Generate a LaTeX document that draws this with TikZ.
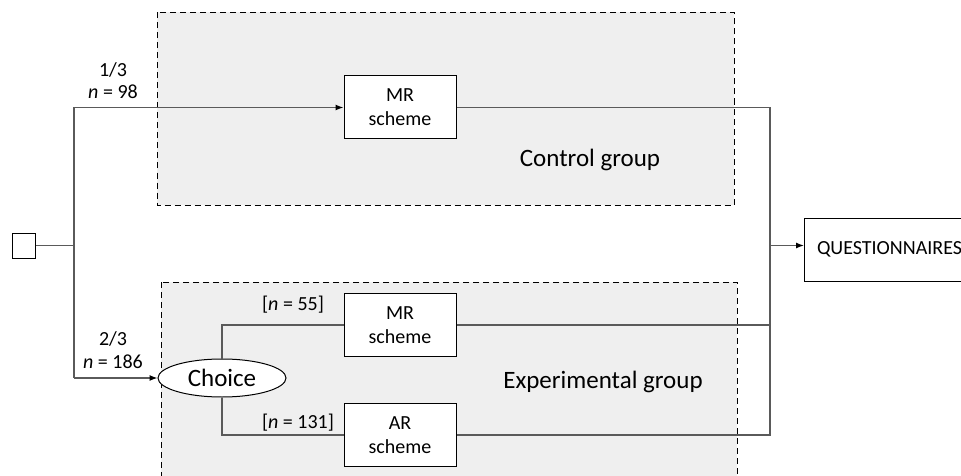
\documentclass[tikz,border=0pt]{standalone}
\usepackage{fontspec}
\setmainfont{Carlito}
\usetikzlibrary{arrows.meta,shapes.geometric}
\definecolor{groupfill}{HTML}{EFEFEF}
\definecolor{conn}{HTML}{5A5A5A}
\tikzset{
  grp/.style={draw=black, line width=1pt, dash pattern=on 6pt off 4pt, fill=groupfill},
  schemebox/.style={draw=black, line width=1pt, fill=white, minimum width=112pt, minimum height=63pt, inner sep=0pt, align=center, font=\fontsize{20}{24}\selectfont},
  link/.style={draw=conn, line width=1.2pt},
  arr/.style={link, -{Latex[length=8pt,width=6pt,color=black]}},
  lbl/.style={font=\fontsize{20}{24}\selectfont, inner sep=0pt},
  big/.style={font=\fontsize{25}{29}\selectfont, inner sep=0pt}
}
\begin{document}
\begin{tikzpicture}[x=1pt,y=-1pt]
\useasboundingbox (0,0) rectangle (961,476);
\clip (0,0) rectangle (961,476);
% groups
\draw[grp] (157,12.5) rectangle (734,205);
\draw[grp] (161,282) rectangle (737,500);
\node[big] (cg) at (590,160) {Control group};
\node[big] (eg) at (603,382) {Experimental group};
% nodes
\node[draw=black, line width=1pt, fill=white, minimum width=23pt, minimum height=25pt, inner sep=0pt] (start) at (23.5,245.5) {};
\node[schemebox] (mr1) at (400,107.5) {MR\\scheme};
\node[schemebox] (mr2) at (400,325) {MR\\scheme};
\node[schemebox] (ar) at (400,435) {AR\\scheme};
\node[draw=black, line width=1pt, fill=white, ellipse, minimum width=128pt, minimum height=38pt, inner sep=0pt, big] (choice) at (222,378) {Choice};
\node[draw=black, line width=1pt, fill=white, anchor=west, minimum width=180pt, minimum height=63pt, text width=155pt, align=left, inner xsep=12pt, font=\fontsize{20}{24}\selectfont] (q) at (804,249.5) {QUESTIONNAIRES};
% coordinates
\coordinate (split) at (74,245.5);
\coordinate (top) at (74,107.5);
\coordinate (bot) at (74,378);
\coordinate (join) at (770,245.5);
\coordinate (rtop) at (770,107.5);
% connectors
\draw[link] (start.east) -- (split);
\draw[link] (top) -- (bot);
\draw[arr] (top) -- (mr1.west);
\draw[arr] (bot) -- (choice.west);
\draw[link] (choice.north) |- (mr2.west);
\draw[link] (choice.south) |- (ar.west);
\draw[link] (mr1.east) -- (rtop) |- (ar.east);
\draw[link] (mr2.east) -- (mr2.east -| rtop);
\draw[arr] (join) -- (join -| q.west);
% labels
\node[lbl] (l13) at (113,70) {1/3};
\node[lbl] (l98) at (113,92) {\textit{n} = 98};
\node[lbl] (l23) at (113,339) {2/3};
\node[lbl] (l186) at (113,362) {\textit{n} = 186};
\node[lbl] (l55) at (293,305) {[\textit{n} = 55]};
\node[lbl] (l131) at (298,423) {[\textit{n} = 131]};
\end{tikzpicture}
\end{document}
